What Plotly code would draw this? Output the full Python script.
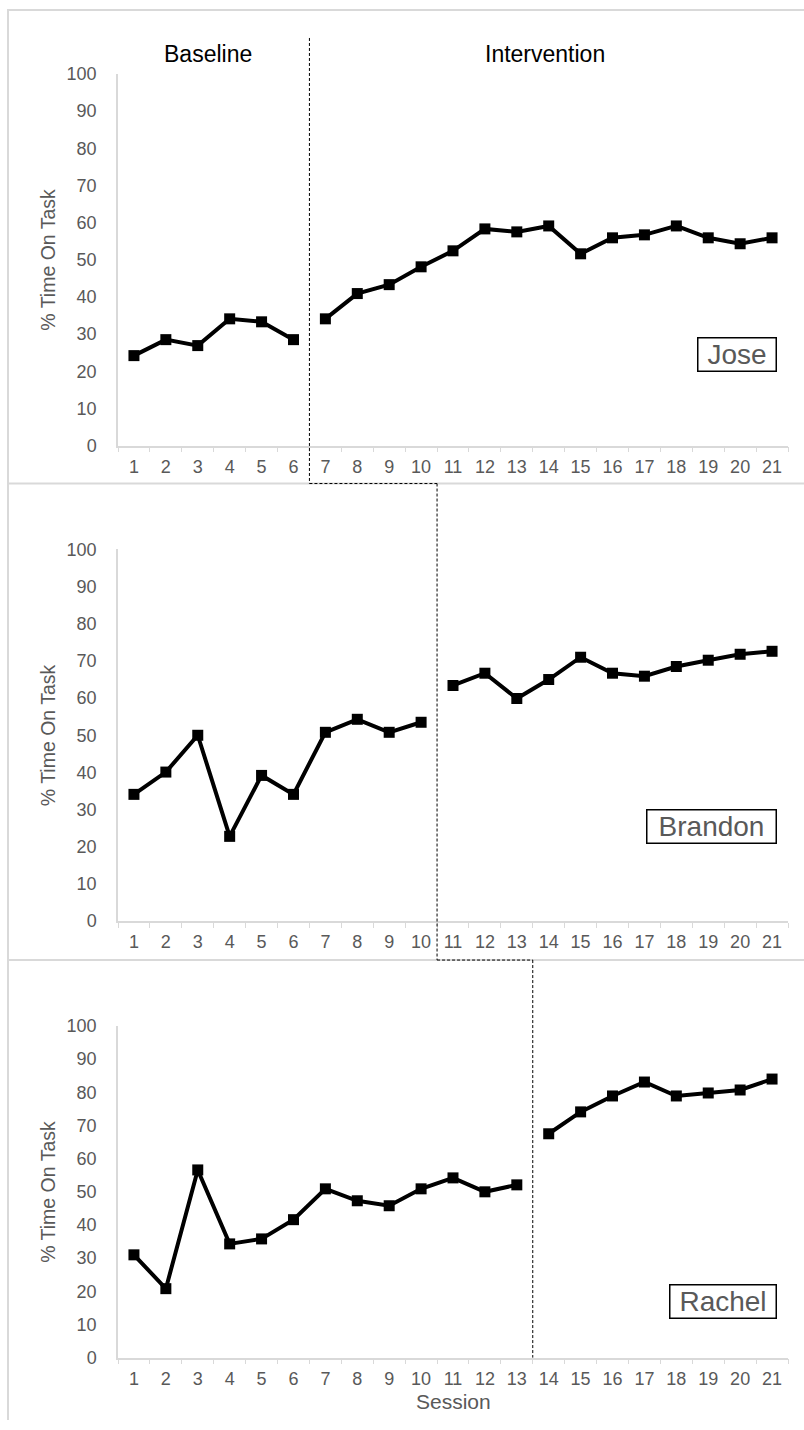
import plotly.graph_objects as go

# ---------------- data ----------------
sessions = list(range(1, 22))
tick_labels = [str(s) for s in sessions]
y_ticks = list(range(0, 101, 10))

participants = ["Jose", "Brandon", "Rachel"]
baseline_lengths = [6, 10, 13]

jose = [24.2, 28.5, 26.9, 34.1, 33.3, 28.5, 34.1, 40.9, 43.3, 48.1, 52.4,
        58.3, 57.5, 59.1, 51.6, 55.9, 56.7, 59.1, 55.9, 54.3, 55.9]
brandon = [34.1, 40.1, 50.0, 22.8, 39.2, 34.1, 50.8, 54.3, 50.8, 53.5, 63.4,
           66.7, 59.9, 65.0, 71.0, 66.7, 65.9, 68.5, 70.2, 71.8, 72.6]
rachel = [31.0, 20.8, 56.6, 34.3, 35.8, 41.6, 50.9, 47.3, 45.8, 50.9, 54.2,
          50.0, 52.1, 67.5, 74.1, 78.9, 83.1, 78.9, 79.8, 80.7, 84.0]
series = [jose, brandon, rachel]

phase_labels = ["Baseline", "Intervention"]
y_title = "% Time On Task"
x_title = "Session"

# ---------------- layout helpers ----------------
W, H = 804, 1430
A, B = 9.0, 0.987          # screen-to-figure calibration (vertical)

def px_x(x):
    return x / W
def px_y(y):
    yf = max(0.0, min(H, (y - A) / B))
    return 1 - yf / H

x_dom = [px_x(118), px_x(788)]
panels_px = [(73, 445), (549, 921), (1026, 1358)]   # (top=100, bottom=0)
sep_px = [483, 960]
name_y = [354, 826, 1302]
name_w = [77, 128, 105]

GRAY = "#595959"
AXC = "#d9d9d9"
FONT = "Liberation Sans, Arial, sans-serif"

fig = go.Figure()

for i, (name, vals, nb) in enumerate(zip(participants, series, baseline_lengths)):
    ax = "" if i == 0 else str(i + 1)
    for seg in (slice(0, nb), slice(nb, None)):
        fig.add_trace(go.Scatter(
            x=sessions[seg], y=vals[seg], mode="lines+markers",
            line=dict(color="black", width=4),
            marker=dict(symbol="square", size=11, color="black"),
            xaxis="x" + ax, yaxis="y" + ax, showlegend=False, hoverinfo="skip",
            cliponaxis=False))

    top, bot = panels_px[i]
    fig.layout["xaxis" + ax] = dict(
        domain=x_dom, anchor="y" + ax, range=[0.5, 21.5],
        tickvals=sessions, ticktext=tick_labels, ticks="",
        showline=True, linecolor=AXC, linewidth=1.5, showgrid=False, zeroline=False,
        tickfont=dict(family=FONT, size=18, color=GRAY), ticklabelstandoff=4,
        minor=dict(tickvals=[s - 0.5 for s in sessions] + [21.5], ticks="outside",
                   ticklen=5, tickcolor=AXC, tickwidth=1, showgrid=False),
    )
    fig.layout["yaxis" + ax] = dict(
        domain=[px_y(bot), px_y(top)], anchor="x" + ax, range=[0, 100],
        tickvals=y_ticks, ticks="", showline=True, linecolor=AXC, linewidth=1.5,
        showgrid=False, zeroline=False, ticklabelstandoff=16,
        tickfont=dict(family=FONT, size=18, color=GRAY),
    )
    # y title
    fig.add_annotation(text=y_title, textangle=-90, xref="paper", yref="paper",
                       x=px_x(48), y=px_y((top + bot) / 2), xanchor="center", yanchor="middle",
                       showarrow=False, font=dict(family=FONT, size=19.5, color=GRAY))
    # name box
    fig.add_annotation(text=name, xref="paper", yref="paper", x=px_x(777),
                       y=px_y(name_y[i]), xanchor="right", yanchor="middle",
                       width=name_w[i], height=32, align="center",
                       showarrow=False, bordercolor="black", borderwidth=1.5, borderpad=0,
                       bgcolor="white", font=dict(family=FONT, size=28, color=GRAY))

# x title
fig.add_annotation(text=x_title, xref="paper", yref="paper", x=px_x(453), y=px_y(1402),
                   xanchor="center", yanchor="middle", showarrow=False,
                   font=dict(family=FONT, size=21, color=GRAY))

# phase labels
fig.add_annotation(text=phase_labels[0], xref="paper", yref="paper", x=px_x(208), y=px_y(53),
                   xanchor="center", yanchor="middle",
                   showarrow=False, font=dict(family=FONT, size=23, color="black"))
fig.add_annotation(text=phase_labels[1], xref="paper", yref="paper", x=px_x(545), y=px_y(53),
                   xanchor="center", yanchor="middle",
                   showarrow=False, font=dict(family=FONT, size=23, color="black"))

# frame and separators
shapes = []
shapes.append(dict(type="line", xref="paper", yref="paper", x0=px_x(7), x1=1, y0=px_y(9), y1=px_y(9),
                   line=dict(color=AXC, width=2)))
shapes.append(dict(type="line", xref="paper", yref="paper", x0=px_x(8), x1=px_x(8), y0=px_y(9), y1=0,
                   line=dict(color=AXC, width=2)))
for s in sep_px:
    shapes.append(dict(type="line", xref="paper", yref="paper", x0=px_x(8), x1=1, y0=px_y(s), y1=px_y(s),
                       line=dict(color=AXC, width=2)))

# phase change lines (dashed step)
dash = dict(color="black", width=1, dash="3px,2px")
xs = [nb + 0.5 for nb in baseline_lengths]
v_spans = [(37, sep_px[0]), (sep_px[0], sep_px[1]), (sep_px[1], panels_px[2][1])]
for k, xv in enumerate(xs):
    shapes.append(dict(type="line", xref="x", yref="paper", x0=xv, x1=xv,
                       y0=px_y(v_spans[k][0]), y1=px_y(v_spans[k][1]), line=dash))
    if k < 2:
        shapes.append(dict(type="line", xref="x", yref="paper", x0=xv, x1=xs[k + 1],
                           y0=px_y(sep_px[k]), y1=px_y(sep_px[k]), line=dash))

fig.update_layout(width=W, height=H, margin=dict(l=0, r=0, t=0, b=0),
                  paper_bgcolor="white", plot_bgcolor="white", shapes=shapes,
                  font=dict(family=FONT))

fig.write_html("out.html", config={"displayModeBar": False},
               post_script="document.body.style.margin='0';")
